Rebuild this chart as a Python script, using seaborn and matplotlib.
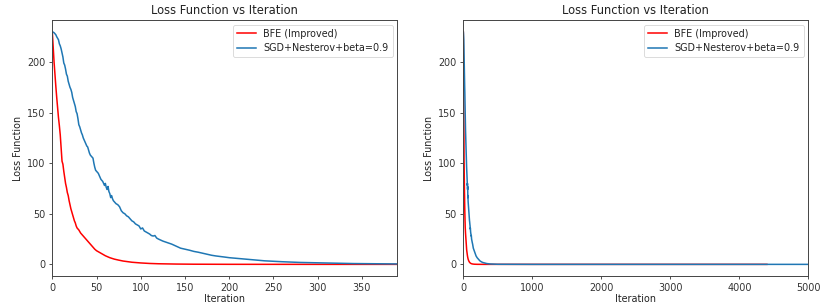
import matplotlib
matplotlib.use("Agg")
import matplotlib.pyplot as plt
import seaborn as sns
import pandas as pd

# ---- data ----
bfe_iter = [0, 1, 2, 3, 4, 5, 6, 7, 8, 9, 10, 11, 12, 13, 14, 15, 16, 17, 18, 19,
            20, 21, 22, 23, 24, 25, 26, 27, 28, 29, 30, 32, 34, 36, 38, 40, 42, 44,
            46, 48, 50, 55, 60, 65, 70, 75, 80, 90, 100, 110, 120, 140, 160, 200,
            300, 500, 1000, 1500, 2000, 2500, 3000, 3500, 4000, 4400]
bfe_loss = [230, 215, 200, 188, 176, 165, 155, 145, 137, 128, 115, 102, 99, 92, 86,
            80, 76, 71, 68, 63, 59, 55, 52, 49, 46, 43, 41, 38, 36, 35, 34, 31, 29,
            27, 25, 23, 21, 19, 17, 15, 13.5, 11, 8.5, 6.6, 5.2, 4.2, 3.3, 2.1, 1.4,
            0.9, 0.6, 0.3, 0.15, 0.05, 0.0, 0.0, 0.0, 0.0, 0.0, 0.0, 0.0, 0.0, 0.0, 0.0]

sgd_iter = [0, 2, 4, 5, 7, 8, 9, 10, 12, 13, 14, 15, 16, 17, 18, 19, 20, 21, 22, 23,
            24, 25, 26, 27, 28, 29, 30, 31, 32, 33, 34, 35, 36, 37, 38, 39, 40, 41,
            42, 43, 44, 45, 46, 47, 48, 49, 50, 51, 52, 53, 54, 55, 56, 57, 58, 59,
            60, 61, 62, 63, 64, 65, 66, 67, 68, 69, 70, 72, 74, 76, 78, 80, 82, 84,
            86, 88, 90, 92, 94, 96, 98, 100, 102, 104, 106, 108, 110, 112, 114, 116,
            118, 120, 125, 130, 135, 140, 145, 150, 155, 160, 165, 170, 175, 180,
            185, 190, 195, 200, 210, 220, 230, 240, 250, 260, 270, 280, 290, 300,
            320, 340, 360, 390, 450, 500, 1000, 2000, 3000, 4000, 5000]
sgd_loss = [230, 229, 227, 225, 222, 218, 216, 213, 205, 199, 197, 193, 188, 186,
            181, 178, 175, 173, 170, 165, 162, 159, 156, 151, 149, 144, 138, 136,
            133, 130, 128, 125, 123, 121, 119, 117, 116, 113, 110, 108, 107, 106,
            105, 100, 96, 93, 92, 91, 90, 88, 86, 84, 83, 82, 80, 78, 80, 76, 74,
            77, 72, 70, 66, 68, 65, 63, 62, 60, 59, 57, 53, 51, 50, 48, 47, 45, 43,
            42, 40, 39, 38, 35, 36, 33, 32, 31, 30, 28.5, 28, 28.5, 26, 25, 23,
            21.5, 20, 18, 16, 15, 14, 12.8, 12, 11, 10, 9, 8.3, 7.8, 7.2, 6.6, 5.8,
            5.0, 4.3, 3.5, 3.0, 2.6, 2.2, 1.9, 1.7, 1.5, 1.1, 0.8, 0.6, 0.4, 0.2,
            0.1, 0.0, 0.0, 0.0, 0.0, 0.0]

labels = ["BFE (Improved)", "SGD+Nesterov+beta=0.9"]
title = "Loss Function vs Iteration"
xlabel = "Iteration"
ylabel = "Loss Function"
xlims = [(0, 390), (0, 5000)]

df = pd.concat([
    pd.DataFrame({"Iteration": bfe_iter, "Loss": bfe_loss, "Method": labels[0]}),
    pd.DataFrame({"Iteration": sgd_iter, "Loss": sgd_loss, "Method": labels[1]}),
], ignore_index=True)

FS = 6.9
plt.rcParams.update({
    "font.family": ["DejaVu Sans"],
    "font.size": FS,
    "text.color": "#222222",
    "axes.labelcolor": "#222222",
    "xtick.color": "#333333",
    "ytick.color": "#333333",
    "axes.edgecolor": "#444444",
    "axes.linewidth": 0.7,
    "xtick.major.width": 0.6,
    "ytick.major.width": 0.6,
    "xtick.major.size": 2.5,
    "ytick.major.size": 2.5,
    "xtick.major.pad": 2.2,
    "ytick.major.pad": 2.2,
})

fig = plt.figure(figsize=(8.3, 3.08), dpi=100)
positions = [[0.063, 0.1039, 0.4157, 0.831], [0.5582, 0.1039, 0.4157, 0.831]]
palette = {labels[0]: "red", labels[1]: "#1f77b4"}

for pos, xl in zip(positions, xlims):
    ax = fig.add_axes(pos)
    sns.lineplot(data=df, x="Iteration", y="Loss", hue="Method", palette=palette,
                 ax=ax, linewidth=1.1, estimator=None, sort=False)
    ax.set_xlim(*xl)
    ax.set_ylim(-11.5, 241.5)
    ax.set_yticks([0, 50, 100, 150, 200])
    ax.set_title(title, fontsize=8.3, pad=4)
    ax.set_xlabel(xlabel, fontsize=FS, labelpad=1.0)
    ax.set_ylabel(ylabel, fontsize=FS, labelpad=3)
    ax.tick_params(labelsize=FS)
    leg = ax.legend(loc="upper right", fontsize=FS, frameon=True,
                    borderaxespad=0.5, handlelength=2.0)
    leg.set_title(None)
    leg.get_frame().set_edgecolor("#cccccc")
    leg.get_frame().set_linewidth(0.6)

fig.savefig("out.png", dpi=100)
